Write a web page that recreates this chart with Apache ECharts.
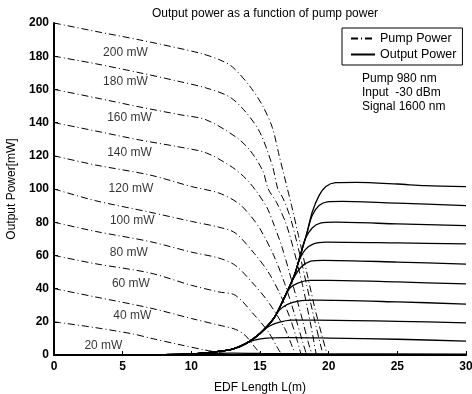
<!DOCTYPE html>
<html>
<head>
<meta charset="utf-8">
<script src="https://cdn.jsdelivr.net/npm/echarts@6/dist/echarts.min.js"></script>
<style>
  html, body { margin: 0; padding: 0; background: #fff; }
  #chart { width: 472px; height: 394px; }
</style>
</head>
<body>
<div id="chart"></div>
<script>
// pump power along the fibre, [length m, mW]
var pump200 = [[0,200],[3,195],[6.25,189.8],[10.6,181.9],[12.1,177.7],[13,173.5],[14.25,162],[15.2,150],[15.9,137],[16.4,120],[17,100],[17.3,90],[17.8,72],[18.4,50],[19,28],[19.5,12],[19.9,0]];
var pump180 = [[0,180],[3,175.5],[6.25,170],[9,165],[11.1,160.8],[12.8,155.4],[14,146],[15,134],[15.9,114],[16.3,100],[16.7,94],[17.2,83],[17.8,64],[18.4,42],[19,20],[19.5,3],[19.6,0]];
var pump160 = [[0,160],[3,155],[6.25,149.4],[9,145],[11.1,141.6],[13.3,131],[14.25,123.5],[15.2,111],[15.6,100],[16.2,92],[16.9,79],[17.5,62],[18.1,42],[18.7,18],[19.1,0]];
var pump140 = [[0,140],[3,135],[6.25,129.5],[9,125.5],[11.1,121.7],[13,113],[14,106],[14.7,99],[15.5,89],[15.9,81],[16.6,65],[17.3,45],[18,24],[18.5,8],[18.8,0]];
var pump120 = [[0,120],[3,114.5],[7,108.4],[10,101.5],[12,97.6],[13.4,91.6],[14.2,85],[15,76],[16,60],[16.8,43],[17.5,25],[18.1,8],[18.4,0]];
var pump100 = [[0,100],[3,93],[7,86],[10,80.5],[12,77],[13.2,73.5],[14.6,61],[15.6,50],[16.5,36],[17.2,22],[17.7,9],[18,0]];
var pump80  = [[0,80],[3,74.5],[7,68.3],[10,62],[12,58.4],[13.2,54],[14.4,44],[15.6,32],[16.8,16],[17.4,4],[17.6,0]];
var pump60  = [[0,60],[3,55],[7,49.4],[10,42],[12,38],[13.2,36],[14.6,24],[15.6,14],[16.3,4],[16.6,0]];
var pump40  = [[0,40],[3,35],[7,28.3],[10,22],[12,18],[13.2,15.5],[13.9,12],[14.6,5],[15.1,0]];
var pump20  = [[0,20],[3,16.5],[5.8,12.6],[7,10.2],[9,6.5],[11,3],[12,1.5],[12.8,0.3],[13.2,0]];

// signal output power along the fibre
var out200 = [[0,0],[8,0.2],[10,0.6],[12,2.2],[13,3.5],[14,7],[15,13],[16,22],[16.8,35],[17.5,48],[17.9,59],[18.4,73],[18.8,86],[19.3,96],[19.8,101.5],[20.5,103.8],[22,104],[25,103],[27,102],[30,101.4]];
var out180 = [[0,0],[8,0.2],[10,0.6],[12,2.2],[13,3.5],[14,7],[15,13],[16,22],[16.8,35],[17.5,48],[17.9,59],[18.4,73],[18.8,84],[19.3,90],[19.9,92.3],[21,92.5],[25,91.5],[30,90]];
var out160 = [[0,0],[8,0.2],[10,0.6],[12,2.2],[13,3.5],[14,7],[15,13],[16,22],[16.8,35],[17.5,48],[17.9,59],[18.3,70],[18.8,76.5],[19.4,79.5],[20.5,80],[25,79],[30,77.9]];
var out140 = [[0,0],[8,0.2],[10,0.6],[12,2.2],[13,3.5],[14,7],[15,13],[16,22],[16.8,35],[17.5,48],[17.9,58],[18.3,63.5],[18.9,67],[19.8,68],[25,67.5],[30,66.9]];
var out120 = [[0,0],[8,0.2],[10,0.6],[12,2.2],[13,3.5],[14,7],[15,13],[16,22],[16.8,35],[17.5,47],[18,53],[18.7,56.5],[19.6,57],[25,56],[30,54.8]];
var out100 = [[0,0],[8,0.2],[10,0.6],[12,2.2],[13,3.5],[14,7],[15,13],[16,22],[16.8,35],[17.2,40.5],[17.8,43.5],[18.6,45],[20,45],[25,44],[30,42.8]];
var out80  = [[0,0],[8,0.2],[10,0.6],[12,2.2],[13,3.5],[14,7],[15,13],[16,22],[16.4,27],[17,30.5],[17.8,32.5],[19,33],[25,32],[30,30.7]];
var out60  = [[0,0],[8,0.2],[10,0.6],[12,2.2],[13,3.5],[14,7],[15,13],[15.6,17],[16.3,19.5],[17.3,21],[19,21],[25,20.3],[30,19.3]];
var out40  = [[0,0],[8,0.2],[10,0.6],[12,2.2],[13,3.5],[14,7],[14.6,9],[15.5,10.2],[17,10.5],[20,10.2],[25,9.5],[30,8.4]];
var out20  = [[0,0],[8,0.1],[10,0.5],[11.5,0.9],[13,1.1],[15,0.9],[20,0.7],[30,0.5]];

var pumpCurves = [pump200, pump180, pump160, pump140, pump120, pump100, pump80, pump60, pump40, pump20];
var outputCurves = [out200, out180, out160, out140, out120, out100, out80, out60, out40, out20];

// curve labels (text, length, power)
var labelText = ['200 mW','180 mW','160 mW','140 mW','120 mW','100 mW','80 mW','60 mW','40 mW','20 mW'];
var labelX = [5.2, 5.2, 5.5, 5.5, 5.6, 5.7, 5.45, 5.6, 5.7, 3.6];
var labelY = [182, 164.5, 143, 121.7, 100, 81, 61.4, 42.8, 23.7, 5.6];

var noteLines = ['Pump 980 nm', 'Input  -30 dBm', 'Signal 1600 nm'];

var FONT = '"Liberation Sans", Arial, sans-serif';
var chart = echarts.init(document.getElementById('chart'), null, { renderer: 'canvas' });

var series = [];
pumpCurves.forEach(function (d) {
  series.push({
    name: 'Pump Power', type: 'line', data: d, symbol: 'none', smooth: 0.3,
    itemStyle: { color: '#000' },
    lineStyle: { color: '#000', width: 1, type: [7, 3, 1, 3] },
    silent: true, z: 2
  });
});
outputCurves.forEach(function (d) {
  series.push({
    name: 'Output Power', type: 'line', data: d, symbol: 'none', smooth: 0.3,
    itemStyle: { color: '#000' },
    lineStyle: { color: '#000', width: 1.3 },
    silent: true, z: 3
  });
});
series.push({
  type: 'scatter', symbolSize: 0, silent: true, z: 5,
  data: labelText.map(function (t, i) { return { name: t, value: [labelX[i], labelY[i]] }; }),
  label: { show: true, position: 'inside', formatter: '{b}', color: '#000', fontSize: 12, fontFamily: FONT }
});

var option = {
  backgroundColor: '#fff',
  animation: false,
  title: {
    text: 'Output power as a function of pump power',
    left: 260, top: 3, textAlign: 'center',
    textStyle: { fontSize: 12, fontWeight: 'normal', color: '#000', fontFamily: FONT }
  },
  legend: {
    data: ['Pump Power', 'Output Power'],
    orient: 'vertical',
    left: 342, top: 28,
    itemWidth: 24, itemHeight: 8, itemGap: 3,
    padding: [4, 6, 4, 8],
    borderColor: '#000', borderWidth: 1,
    itemStyle: { opacity: 0 },
    textStyle: { fontSize: 12.5, color: '#000', fontFamily: FONT }
  },
  graphic: noteLines.map(function (t, i) {
    return {
      type: 'text', left: 362, top: 73 + i * 14,
      style: { text: t, fontSize: 12, fill: '#000', fontFamily: FONT }
    };
  }),
  grid: { left: 54, right: 6, top: 23, bottom: 39, outerBoundsMode: 'none' },
  xAxis: {
    type: 'value', min: 0, max: 30, interval: 5,
    name: 'EDF Length L(m)', nameLocation: 'middle', nameGap: 27,
    nameTextStyle: { fontSize: 12, color: '#000', fontFamily: FONT },
    axisLine: { lineStyle: { color: '#000', width: 2 } },
    axisTick: { inside: true, length: 4, lineStyle: { color: '#000' } },
    axisLabel: { fontSize: 12, color: '#000', fontWeight: 'bold', margin: 6, fontFamily: FONT },
    splitLine: { show: false }
  },
  yAxis: {
    type: 'value', min: 0, max: 200, interval: 20,
    name: 'Output Power[mW]', nameLocation: 'middle', nameGap: 36,
    nameTextStyle: { fontSize: 12, color: '#000', fontFamily: FONT },
    axisLine: { show: true, lineStyle: { color: '#000', width: 2 } },
    axisTick: { show: true, inside: true, length: 4, lineStyle: { color: '#000' } },
    axisLabel: { fontSize: 12, color: '#000', fontWeight: 'bold', margin: 5, fontFamily: FONT },
    splitLine: { show: false }
  },
  series: series
};

chart.setOption(option);
</script>
</body>
</html>
